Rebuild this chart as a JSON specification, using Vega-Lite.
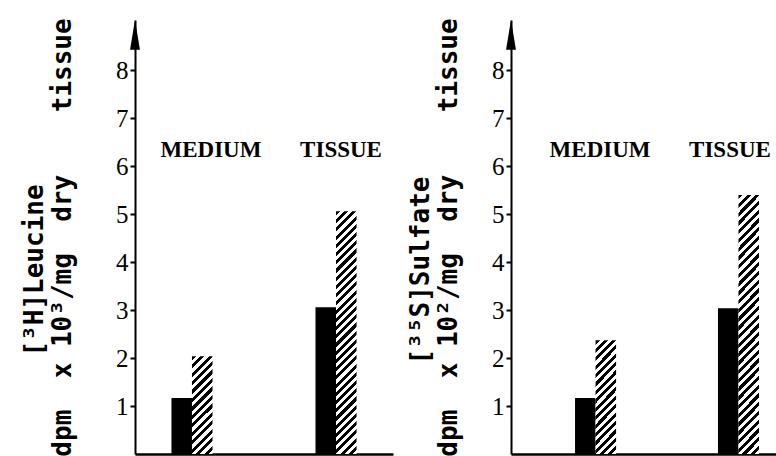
{
"$schema": "https://vega.github.io/schema/vega-lite/v6.json",
"padding": {"left": 21, "top": 17, "right": 0, "bottom": 0},
"spacing": 14,
"background": "#ffffff",
"config": {
  "view": {"stroke": null},
  "axisY": {"grid": false, "domainColor": "#000", "domainWidth": 2, "tickColor": "#000", "tickSize": 5, "tickWidth": 2, "labelFont": "Liberation Serif", "labelFontSize": 25, "labelColor": "#000", "labelPadding": 2, "titleFont": "DejaVu Sans Mono", "titleFontSize": 26, "titleFontWeight": "bold", "titleColor": "#000", "titleLineHeight": 28},
  "axisX": {"grid": false, "labels": false, "ticks": false, "domainColor": "#000", "domainWidth": 2.5}
},
"hconcat": [
{
  "width": 258, "height": 434,
  "data": {"values": [
    {"group": "MEDIUM", "treatment": "control", "value": 1.17},
    {"group": "MEDIUM", "treatment": "treated", "value": 2.04},
    {"group": "TISSUE", "treatment": "control", "value": 3.06},
    {"group": "TISSUE", "treatment": "treated", "value": 5.06}
  ]},
  "layer": [
    {
      "encoding": {
        "x": {"field": "group", "type": "nominal", "scale": {"domain": ["MEDIUM", "TISSUE"], "paddingInner": 0.715, "paddingOuter": 0.253}, "axis": {"title": null, "labels": false, "ticks": false}},
        "y": {"field": "value", "type": "quantitative", "scale": {"domain": [0, 9.05], "nice": false}, "axis": {"title": ["[³H]Leucine\u00a0\u00a0\u00a0\u2800", "dpm\u00a0\u00a0x 10³/mg\u00a0\u00a0dry\u00a0\u00a0\u00a0\u00a0tissue"], "titlePadding": 40, "values": [1, 2, 3, 4, 5, 6, 7, 8], "format": "d"}}
      },
      "layer": [
        {"transform": [{"filter": "datum.treatment === 'control'"}],
         "mark": {"type": "bar", "fill": "#000"},
         "encoding": {"xOffset": {"field": "treatment", "type": "nominal", "scale": {"domain": ["control", "treated"], "paddingInner": 0, "paddingOuter": 0}}}},
        {"transform": [{"filter": "datum.treatment === 'treated' && datum.group === 'MEDIUM'"}],
         "mark": {"type": "bar", "fill": {"gradient": "linear", "x1": 0, "y1": 0, "x2": 0.2429, "y2": 1.1587, "stops": [
{"offset":0,"color":"#000"},{"offset":0.0357,"color":"#000"},{"offset":0.0357,"color":"#fff"},{"offset":0.0714,"color":"#fff"},
{"offset":0.0714,"color":"#000"},{"offset":0.1071,"color":"#000"},{"offset":0.1071,"color":"#fff"},{"offset":0.1429,"color":"#fff"},
{"offset":0.1429,"color":"#000"},{"offset":0.1786,"color":"#000"},{"offset":0.1786,"color":"#fff"},{"offset":0.2143,"color":"#fff"},
{"offset":0.2143,"color":"#000"},{"offset":0.25,"color":"#000"},{"offset":0.25,"color":"#fff"},{"offset":0.2857,"color":"#fff"},
{"offset":0.2857,"color":"#000"},{"offset":0.3214,"color":"#000"},{"offset":0.3214,"color":"#fff"},{"offset":0.3571,"color":"#fff"},
{"offset":0.3571,"color":"#000"},{"offset":0.3929,"color":"#000"},{"offset":0.3929,"color":"#fff"},{"offset":0.4286,"color":"#fff"},
{"offset":0.4286,"color":"#000"},{"offset":0.4643,"color":"#000"},{"offset":0.4643,"color":"#fff"},{"offset":0.5,"color":"#fff"},
{"offset":0.5,"color":"#000"},{"offset":0.5357,"color":"#000"},{"offset":0.5357,"color":"#fff"},{"offset":0.5714,"color":"#fff"},
{"offset":0.5714,"color":"#000"},{"offset":0.6071,"color":"#000"},{"offset":0.6071,"color":"#fff"},{"offset":0.6429,"color":"#fff"},
{"offset":0.6429,"color":"#000"},{"offset":0.6786,"color":"#000"},{"offset":0.6786,"color":"#fff"},{"offset":0.7143,"color":"#fff"},
{"offset":0.7143,"color":"#000"},{"offset":0.75,"color":"#000"},{"offset":0.75,"color":"#fff"},{"offset":0.7857,"color":"#fff"},
{"offset":0.7857,"color":"#000"},{"offset":0.8214,"color":"#000"},{"offset":0.8214,"color":"#fff"},{"offset":0.8571,"color":"#fff"},
{"offset":0.8571,"color":"#000"},{"offset":0.8929,"color":"#000"},{"offset":0.8929,"color":"#fff"},{"offset":0.9286,"color":"#fff"},
{"offset":0.9286,"color":"#000"},{"offset":0.9643,"color":"#000"},{"offset":0.9643,"color":"#fff"},{"offset":1,"color":"#fff"}]}},
         "encoding": {"xOffset": {"field": "treatment", "type": "nominal", "scale": {"domain": ["control", "treated"], "paddingInner": 0, "paddingOuter": 0}}}},
        {"transform": [{"filter": "datum.treatment === 'treated' && datum.group === 'TISSUE'"}],
         "mark": {"type": "bar", "fill": {"gradient": "linear", "x1": 0, "y1": 0, "x2": 0.091, "y2": 1.0768, "stops": [
{"offset":0,"color":"#000"},{"offset":0.015625,"color":"#000"},{"offset":0.015625,"color":"#fff"},{"offset":0.03125,"color":"#fff"},
{"offset":0.03125,"color":"#000"},{"offset":0.046875,"color":"#000"},{"offset":0.046875,"color":"#fff"},{"offset":0.0625,"color":"#fff"},
{"offset":0.0625,"color":"#000"},{"offset":0.078125,"color":"#000"},{"offset":0.078125,"color":"#fff"},{"offset":0.09375,"color":"#fff"},
{"offset":0.09375,"color":"#000"},{"offset":0.109375,"color":"#000"},{"offset":0.109375,"color":"#fff"},{"offset":0.125,"color":"#fff"},
{"offset":0.125,"color":"#000"},{"offset":0.140625,"color":"#000"},{"offset":0.140625,"color":"#fff"},{"offset":0.15625,"color":"#fff"},
{"offset":0.15625,"color":"#000"},{"offset":0.171875,"color":"#000"},{"offset":0.171875,"color":"#fff"},{"offset":0.1875,"color":"#fff"},
{"offset":0.1875,"color":"#000"},{"offset":0.203125,"color":"#000"},{"offset":0.203125,"color":"#fff"},{"offset":0.21875,"color":"#fff"},
{"offset":0.21875,"color":"#000"},{"offset":0.234375,"color":"#000"},{"offset":0.234375,"color":"#fff"},{"offset":0.25,"color":"#fff"},
{"offset":0.25,"color":"#000"},{"offset":0.265625,"color":"#000"},{"offset":0.265625,"color":"#fff"},{"offset":0.28125,"color":"#fff"},
{"offset":0.28125,"color":"#000"},{"offset":0.296875,"color":"#000"},{"offset":0.296875,"color":"#fff"},{"offset":0.3125,"color":"#fff"},
{"offset":0.3125,"color":"#000"},{"offset":0.328125,"color":"#000"},{"offset":0.328125,"color":"#fff"},{"offset":0.34375,"color":"#fff"},
{"offset":0.34375,"color":"#000"},{"offset":0.359375,"color":"#000"},{"offset":0.359375,"color":"#fff"},{"offset":0.375,"color":"#fff"},
{"offset":0.375,"color":"#000"},{"offset":0.390625,"color":"#000"},{"offset":0.390625,"color":"#fff"},{"offset":0.40625,"color":"#fff"},
{"offset":0.40625,"color":"#000"},{"offset":0.421875,"color":"#000"},{"offset":0.421875,"color":"#fff"},{"offset":0.4375,"color":"#fff"},
{"offset":0.4375,"color":"#000"},{"offset":0.453125,"color":"#000"},{"offset":0.453125,"color":"#fff"},{"offset":0.46875,"color":"#fff"},
{"offset":0.46875,"color":"#000"},{"offset":0.484375,"color":"#000"},{"offset":0.484375,"color":"#fff"},{"offset":0.5,"color":"#fff"},
{"offset":0.5,"color":"#000"},{"offset":0.515625,"color":"#000"},{"offset":0.515625,"color":"#fff"},{"offset":0.53125,"color":"#fff"},
{"offset":0.53125,"color":"#000"},{"offset":0.546875,"color":"#000"},{"offset":0.546875,"color":"#fff"},{"offset":0.5625,"color":"#fff"},
{"offset":0.5625,"color":"#000"},{"offset":0.578125,"color":"#000"},{"offset":0.578125,"color":"#fff"},{"offset":0.59375,"color":"#fff"},
{"offset":0.59375,"color":"#000"},{"offset":0.609375,"color":"#000"},{"offset":0.609375,"color":"#fff"},{"offset":0.625,"color":"#fff"},
{"offset":0.625,"color":"#000"},{"offset":0.640625,"color":"#000"},{"offset":0.640625,"color":"#fff"},{"offset":0.65625,"color":"#fff"},
{"offset":0.65625,"color":"#000"},{"offset":0.671875,"color":"#000"},{"offset":0.671875,"color":"#fff"},{"offset":0.6875,"color":"#fff"},
{"offset":0.6875,"color":"#000"},{"offset":0.703125,"color":"#000"},{"offset":0.703125,"color":"#fff"},{"offset":0.71875,"color":"#fff"},
{"offset":0.71875,"color":"#000"},{"offset":0.734375,"color":"#000"},{"offset":0.734375,"color":"#fff"},{"offset":0.75,"color":"#fff"},
{"offset":0.75,"color":"#000"},{"offset":0.765625,"color":"#000"},{"offset":0.765625,"color":"#fff"},{"offset":0.78125,"color":"#fff"},
{"offset":0.78125,"color":"#000"},{"offset":0.796875,"color":"#000"},{"offset":0.796875,"color":"#fff"},{"offset":0.8125,"color":"#fff"},
{"offset":0.8125,"color":"#000"},{"offset":0.828125,"color":"#000"},{"offset":0.828125,"color":"#fff"},{"offset":0.84375,"color":"#fff"},
{"offset":0.84375,"color":"#000"},{"offset":0.859375,"color":"#000"},{"offset":0.859375,"color":"#fff"},{"offset":0.875,"color":"#fff"},
{"offset":0.875,"color":"#000"},{"offset":0.890625,"color":"#000"},{"offset":0.890625,"color":"#fff"},{"offset":0.90625,"color":"#fff"},
{"offset":0.90625,"color":"#000"},{"offset":0.921875,"color":"#000"},{"offset":0.921875,"color":"#fff"},{"offset":0.9375,"color":"#fff"},
{"offset":0.9375,"color":"#000"},{"offset":0.953125,"color":"#000"},{"offset":0.953125,"color":"#fff"},{"offset":0.96875,"color":"#fff"},
{"offset":0.96875,"color":"#000"},{"offset":0.984375,"color":"#000"},{"offset":0.984375,"color":"#fff"},{"offset":1,"color":"#fff"}]}},
         "encoding": {"xOffset": {"field": "treatment", "type": "nominal", "scale": {"domain": ["control", "treated"], "paddingInner": 0, "paddingOuter": 0}}}},
        {"transform": [{"filter": "datum.treatment === 'control' && datum.group === 'MEDIUM'"}],
         "mark": {"type": "text", "font": "Liberation Serif", "fontSize": 23, "fontWeight": "bold", "color": "#000", "baseline": "middle", "dx": 19},
         "encoding": {"y": {"datum": 6.33, "type": "quantitative"}, "text": {"field": "group"}}},
        {"transform": [{"filter": "datum.treatment === 'control' && datum.group === 'TISSUE'"}],
         "mark": {"type": "text", "font": "Liberation Serif", "fontSize": 23, "fontWeight": "bold", "color": "#000", "baseline": "middle", "dx": 5},
         "encoding": {"y": {"datum": 6.33, "type": "quantitative"}, "text": {"field": "group"}}}
      ]
    },
    {
      "transform": [{"filter": "datum.treatment === 'control' && datum.group === 'MEDIUM'"}],
      "mark": {"type": "point", "shape": "M0,-1L0.33,1L-0.33,1Z", "size": 900, "filled": true, "color": "#000", "opacity": 1, "strokeWidth": 0},
      "encoding": {
        "x": {"datum": 0, "type": "quantitative", "scale": {"domain": [0, 1]}, "axis": null},
        "y": {"datum": 8.74, "type": "quantitative"}
      }
    }
  ],
  "resolve": {"scale": {"x": "independent"}}
},
{
  "width": 265, "height": 434,
  "data": {"values": [
    {"group": "MEDIUM", "treatment": "control", "value": 1.17},
    {"group": "MEDIUM", "treatment": "treated", "value": 2.37},
    {"group": "TISSUE", "treatment": "control", "value": 3.04},
    {"group": "TISSUE", "treatment": "treated", "value": 5.4}
  ]},
  "layer": [
    {
      "encoding": {
        "x": {"field": "group", "type": "nominal", "scale": {"domain": ["MEDIUM", "TISSUE"], "paddingInner": 0.706, "paddingOuter": 0.28, "align": 0.8}, "axis": {"title": null, "labels": false, "ticks": false}},
        "y": {"field": "value", "type": "quantitative", "scale": {"domain": [0, 9.05], "nice": false}, "axis": {"title": ["[³⁵S]Sulfate\u00a0\u00a0\u00a0\u2800", "dpm\u00a0\u00a0x 10²/mg\u00a0\u00a0dry\u00a0\u00a0\u00a0\u00a0tissue"], "titlePadding": 30, "values": [1, 2, 3, 4, 5, 6, 7, 8], "format": "d"}}
      },
      "layer": [
        {"transform": [{"filter": "datum.treatment === 'control'"}],
         "mark": {"type": "bar", "fill": "#000"},
         "encoding": {"xOffset": {"field": "treatment", "type": "nominal", "scale": {"domain": ["control", "treated"], "paddingInner": 0, "paddingOuter": 0}}}},
        {"transform": [{"filter": "datum.treatment === 'treated' && datum.group === 'MEDIUM'"}],
         "mark": {"type": "bar", "fill": {"gradient": "linear", "x1": 0, "y1": 0, "x2": 0.2116, "y2": 1.1456, "stops": [
{"offset":0,"color":"#000"},{"offset":0.03125,"color":"#000"},{"offset":0.03125,"color":"#fff"},{"offset":0.0625,"color":"#fff"},
{"offset":0.0625,"color":"#000"},{"offset":0.09375,"color":"#000"},{"offset":0.09375,"color":"#fff"},{"offset":0.125,"color":"#fff"},
{"offset":0.125,"color":"#000"},{"offset":0.15625,"color":"#000"},{"offset":0.15625,"color":"#fff"},{"offset":0.1875,"color":"#fff"},
{"offset":0.1875,"color":"#000"},{"offset":0.21875,"color":"#000"},{"offset":0.21875,"color":"#fff"},{"offset":0.25,"color":"#fff"},
{"offset":0.25,"color":"#000"},{"offset":0.28125,"color":"#000"},{"offset":0.28125,"color":"#fff"},{"offset":0.3125,"color":"#fff"},
{"offset":0.3125,"color":"#000"},{"offset":0.34375,"color":"#000"},{"offset":0.34375,"color":"#fff"},{"offset":0.375,"color":"#fff"},
{"offset":0.375,"color":"#000"},{"offset":0.40625,"color":"#000"},{"offset":0.40625,"color":"#fff"},{"offset":0.4375,"color":"#fff"},
{"offset":0.4375,"color":"#000"},{"offset":0.46875,"color":"#000"},{"offset":0.46875,"color":"#fff"},{"offset":0.5,"color":"#fff"},
{"offset":0.5,"color":"#000"},{"offset":0.53125,"color":"#000"},{"offset":0.53125,"color":"#fff"},{"offset":0.5625,"color":"#fff"},
{"offset":0.5625,"color":"#000"},{"offset":0.59375,"color":"#000"},{"offset":0.59375,"color":"#fff"},{"offset":0.625,"color":"#fff"},
{"offset":0.625,"color":"#000"},{"offset":0.65625,"color":"#000"},{"offset":0.65625,"color":"#fff"},{"offset":0.6875,"color":"#fff"},
{"offset":0.6875,"color":"#000"},{"offset":0.71875,"color":"#000"},{"offset":0.71875,"color":"#fff"},{"offset":0.75,"color":"#fff"},
{"offset":0.75,"color":"#000"},{"offset":0.78125,"color":"#000"},{"offset":0.78125,"color":"#fff"},{"offset":0.8125,"color":"#fff"},
{"offset":0.8125,"color":"#000"},{"offset":0.84375,"color":"#000"},{"offset":0.84375,"color":"#fff"},{"offset":0.875,"color":"#fff"},
{"offset":0.875,"color":"#000"},{"offset":0.90625,"color":"#000"},{"offset":0.90625,"color":"#fff"},{"offset":0.9375,"color":"#fff"},
{"offset":0.9375,"color":"#000"},{"offset":0.96875,"color":"#000"},{"offset":0.96875,"color":"#fff"},{"offset":1,"color":"#fff"}]}},
         "encoding": {"xOffset": {"field": "treatment", "type": "nominal", "scale": {"domain": ["control", "treated"], "paddingInner": 0, "paddingOuter": 0}}}},
        {"transform": [{"filter": "datum.treatment === 'treated' && datum.group === 'TISSUE'"}],
         "mark": {"type": "bar", "fill": {"gradient": "linear", "x1": 0, "y1": 0, "x2": 0.0871, "y2": 1.074, "stops": [
{"offset":0,"color":"#000"},{"offset":0.015625,"color":"#000"},{"offset":0.015625,"color":"#fff"},{"offset":0.03125,"color":"#fff"},
{"offset":0.03125,"color":"#000"},{"offset":0.046875,"color":"#000"},{"offset":0.046875,"color":"#fff"},{"offset":0.0625,"color":"#fff"},
{"offset":0.0625,"color":"#000"},{"offset":0.078125,"color":"#000"},{"offset":0.078125,"color":"#fff"},{"offset":0.09375,"color":"#fff"},
{"offset":0.09375,"color":"#000"},{"offset":0.109375,"color":"#000"},{"offset":0.109375,"color":"#fff"},{"offset":0.125,"color":"#fff"},
{"offset":0.125,"color":"#000"},{"offset":0.140625,"color":"#000"},{"offset":0.140625,"color":"#fff"},{"offset":0.15625,"color":"#fff"},
{"offset":0.15625,"color":"#000"},{"offset":0.171875,"color":"#000"},{"offset":0.171875,"color":"#fff"},{"offset":0.1875,"color":"#fff"},
{"offset":0.1875,"color":"#000"},{"offset":0.203125,"color":"#000"},{"offset":0.203125,"color":"#fff"},{"offset":0.21875,"color":"#fff"},
{"offset":0.21875,"color":"#000"},{"offset":0.234375,"color":"#000"},{"offset":0.234375,"color":"#fff"},{"offset":0.25,"color":"#fff"},
{"offset":0.25,"color":"#000"},{"offset":0.265625,"color":"#000"},{"offset":0.265625,"color":"#fff"},{"offset":0.28125,"color":"#fff"},
{"offset":0.28125,"color":"#000"},{"offset":0.296875,"color":"#000"},{"offset":0.296875,"color":"#fff"},{"offset":0.3125,"color":"#fff"},
{"offset":0.3125,"color":"#000"},{"offset":0.328125,"color":"#000"},{"offset":0.328125,"color":"#fff"},{"offset":0.34375,"color":"#fff"},
{"offset":0.34375,"color":"#000"},{"offset":0.359375,"color":"#000"},{"offset":0.359375,"color":"#fff"},{"offset":0.375,"color":"#fff"},
{"offset":0.375,"color":"#000"},{"offset":0.390625,"color":"#000"},{"offset":0.390625,"color":"#fff"},{"offset":0.40625,"color":"#fff"},
{"offset":0.40625,"color":"#000"},{"offset":0.421875,"color":"#000"},{"offset":0.421875,"color":"#fff"},{"offset":0.4375,"color":"#fff"},
{"offset":0.4375,"color":"#000"},{"offset":0.453125,"color":"#000"},{"offset":0.453125,"color":"#fff"},{"offset":0.46875,"color":"#fff"},
{"offset":0.46875,"color":"#000"},{"offset":0.484375,"color":"#000"},{"offset":0.484375,"color":"#fff"},{"offset":0.5,"color":"#fff"},
{"offset":0.5,"color":"#000"},{"offset":0.515625,"color":"#000"},{"offset":0.515625,"color":"#fff"},{"offset":0.53125,"color":"#fff"},
{"offset":0.53125,"color":"#000"},{"offset":0.546875,"color":"#000"},{"offset":0.546875,"color":"#fff"},{"offset":0.5625,"color":"#fff"},
{"offset":0.5625,"color":"#000"},{"offset":0.578125,"color":"#000"},{"offset":0.578125,"color":"#fff"},{"offset":0.59375,"color":"#fff"},
{"offset":0.59375,"color":"#000"},{"offset":0.609375,"color":"#000"},{"offset":0.609375,"color":"#fff"},{"offset":0.625,"color":"#fff"},
{"offset":0.625,"color":"#000"},{"offset":0.640625,"color":"#000"},{"offset":0.640625,"color":"#fff"},{"offset":0.65625,"color":"#fff"},
{"offset":0.65625,"color":"#000"},{"offset":0.671875,"color":"#000"},{"offset":0.671875,"color":"#fff"},{"offset":0.6875,"color":"#fff"},
{"offset":0.6875,"color":"#000"},{"offset":0.703125,"color":"#000"},{"offset":0.703125,"color":"#fff"},{"offset":0.71875,"color":"#fff"},
{"offset":0.71875,"color":"#000"},{"offset":0.734375,"color":"#000"},{"offset":0.734375,"color":"#fff"},{"offset":0.75,"color":"#fff"},
{"offset":0.75,"color":"#000"},{"offset":0.765625,"color":"#000"},{"offset":0.765625,"color":"#fff"},{"offset":0.78125,"color":"#fff"},
{"offset":0.78125,"color":"#000"},{"offset":0.796875,"color":"#000"},{"offset":0.796875,"color":"#fff"},{"offset":0.8125,"color":"#fff"},
{"offset":0.8125,"color":"#000"},{"offset":0.828125,"color":"#000"},{"offset":0.828125,"color":"#fff"},{"offset":0.84375,"color":"#fff"},
{"offset":0.84375,"color":"#000"},{"offset":0.859375,"color":"#000"},{"offset":0.859375,"color":"#fff"},{"offset":0.875,"color":"#fff"},
{"offset":0.875,"color":"#000"},{"offset":0.890625,"color":"#000"},{"offset":0.890625,"color":"#fff"},{"offset":0.90625,"color":"#fff"},
{"offset":0.90625,"color":"#000"},{"offset":0.921875,"color":"#000"},{"offset":0.921875,"color":"#fff"},{"offset":0.9375,"color":"#fff"},
{"offset":0.9375,"color":"#000"},{"offset":0.953125,"color":"#000"},{"offset":0.953125,"color":"#fff"},{"offset":0.96875,"color":"#fff"},
{"offset":0.96875,"color":"#000"},{"offset":0.984375,"color":"#000"},{"offset":0.984375,"color":"#fff"},{"offset":1,"color":"#fff"}]}},
         "encoding": {"xOffset": {"field": "treatment", "type": "nominal", "scale": {"domain": ["control", "treated"], "paddingInner": 0, "paddingOuter": 0}}}},
        {"transform": [{"filter": "datum.treatment === 'control' && datum.group === 'MEDIUM'"}],
         "mark": {"type": "text", "font": "Liberation Serif", "fontSize": 23, "fontWeight": "bold", "color": "#000", "baseline": "middle", "dx": 4},
         "encoding": {"y": {"datum": 6.33, "type": "quantitative"}, "text": {"field": "group"}}},
        {"transform": [{"filter": "datum.treatment === 'control' && datum.group === 'TISSUE'"}],
         "mark": {"type": "text", "font": "Liberation Serif", "fontSize": 23, "fontWeight": "bold", "color": "#000", "baseline": "middle", "dx": -9},
         "encoding": {"y": {"datum": 6.33, "type": "quantitative"}, "text": {"field": "group"}}}
      ]
    },
    {
      "transform": [{"filter": "datum.treatment === 'control' && datum.group === 'MEDIUM'"}],
      "mark": {"type": "point", "shape": "M0,-1L0.33,1L-0.33,1Z", "size": 900, "filled": true, "color": "#000", "opacity": 1, "strokeWidth": 0},
      "encoding": {
        "x": {"datum": 0, "type": "quantitative", "scale": {"domain": [0, 1]}, "axis": null},
        "y": {"datum": 8.74, "type": "quantitative"}
      }
    }
  ],
  "resolve": {"scale": {"x": "independent"}}
}
]
}
